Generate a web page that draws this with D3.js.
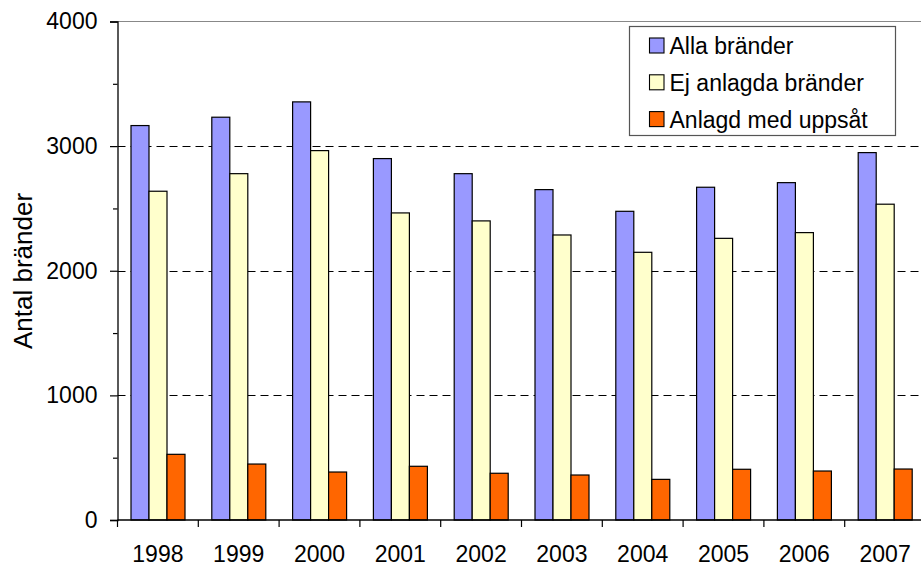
<!DOCTYPE html>
<html><head><meta charset="utf-8">
<script src="https://cdn.jsdelivr.net/npm/d3@7"></script>
<style>body{margin:0;background:#fff}svg{display:block;font-family:"Liberation Sans",Arial,sans-serif}</style>
</head><body>
<svg id="c" width="921" height="568"></svg>
<script>
const years = ["1998","1999","2000","2001","2002","2003","2004","2005","2006","2007"];
const allaBrander = [3165,3232,3355,2900,2779,2651,2477,2670,2707,2948];
const ejAnlagda = [2638,2779,2964,2464,2400,2287,2148,2260,2306,2534];
const anlagdUppsat = [527,449,385,431,375,361,326,407,393,409];
const seriesNames = ["Alla bränder","Ej anlagda bränder","Anlagd med uppsåt"];
const seriesColors = ["#9999FF","#FFFFCC","#FF6600"];
const yTicks = [0,1000,2000,3000,4000];
const yMinorTicks = [500,1500,2500,3500];
const yTitle = "Antal bränder";

const series = [allaBrander, ejAnlagda, anlagdUppsat];
const svg = d3.select("#c");
const FF = "Liberation Sans, Arial, sans-serif";
const L = 117.5, T = 21.5, B = 520, R = L + 80.8*10;
const x = d3.scaleBand().domain(years).range([L, R]).paddingInner(0).paddingOuter(0);
const inner = d3.scaleBand().domain([0,1,2]).range([13.5, 13.5+54]);
const y = d3.scaleLinear().domain([0,4000]).range([B, T]);

// top border
svg.append("line").attr("x1",L).attr("x2",R).attr("y1",T).attr("y2",T).attr("stroke","#888").attr("stroke-width",1.2);

// gridlines
svg.append("g").selectAll("line").data(yTicks.filter(d=>d>0&&d<4000)).join("line")
  .attr("x1",L).attr("x2",R).attr("y1",d=>Math.round(y(d))+0.5).attr("y2",d=>Math.round(y(d))+0.5)
  .attr("stroke","#000").attr("stroke-width",1).attr("stroke-dasharray","8,5");

// bars
const g = svg.append("g");
series.forEach((vals, si) => {
  g.selectAll(null).data(vals.map((v,i)=>({v, yr: years[i]}))).join("rect")
    .attr("x", d => x(d.yr) + inner(si))
    .attr("y", d => y(d.v))
    .attr("width", inner.bandwidth())
    .attr("height", d => B - y(d.v))
    .attr("fill", seriesColors[si]).attr("stroke","#000").attr("stroke-width",1.2);
});

// y axis
const ya = svg.append("g").attr("transform",`translate(${L},0)`)
  .call(d3.axisLeft(y).tickValues(yTicks).tickSize(7.5).tickPadding(12.5).tickFormat(d3.format("d")));
ya.select(".domain").attr("stroke","#000").attr("stroke-width",1.3);
ya.selectAll(".tick line").attr("stroke","#000").attr("stroke-width",1.2);
ya.selectAll("text").attr("font-size",23).attr("font-family",FF).attr("fill","#000");
svg.append("g").attr("transform",`translate(${L},0)`)
  .call(d3.axisLeft(y).tickValues(yMinorTicks).tickSize(4.5).tickFormat(""))
  .call(s=>{s.select(".domain").remove(); s.selectAll(".tick line").attr("stroke","#000").attr("stroke-width",1.2);});

// x axis
const xa = svg.append("g").attr("transform",`translate(0,${B})`)
  .call(d3.axisBottom(x).tickSize(0).tickPadding(26));
xa.select(".domain").remove();
svg.append("line").attr("x1",L).attr("x2",R).attr("y1",B).attr("y2",B).attr("stroke","#000").attr("stroke-width",1.3);
svg.append("g").selectAll("line").data(years.map((d,i)=>i)).join("line")
  .attr("x1",i=>L+x.step()*i).attr("x2",i=>L+x.step()*i).attr("y1",B).attr("y2",B+7)
  .attr("stroke","#000").attr("stroke-width",1.2);
xa.selectAll("text").attr("font-size",23).attr("font-family",FF).attr("fill","#000");

// y title
svg.append("text").attr("transform",`translate(32,271) rotate(-90)`)
  .attr("text-anchor","middle").attr("font-size",26).text(yTitle);

// legend
const lg = svg.append("g");
lg.append("rect").attr("x",629.5).attr("y",26.5).attr("width",266).attr("height",109)
  .attr("fill","#fff").attr("stroke","#555").attr("stroke-width",1.2);
seriesNames.forEach((n,i)=>{
  const by = 54 + i*36.8;
  lg.append("rect").attr("x",649.5).attr("y",by-16).attr("width",14.5).attr("height",15)
    .attr("fill",seriesColors[i]).attr("stroke","#000").attr("stroke-width",1.1);
  lg.append("text").attr("x",669.5).attr("y",by).attr("font-size",23).text(n);
});
</script>
</body></html>
